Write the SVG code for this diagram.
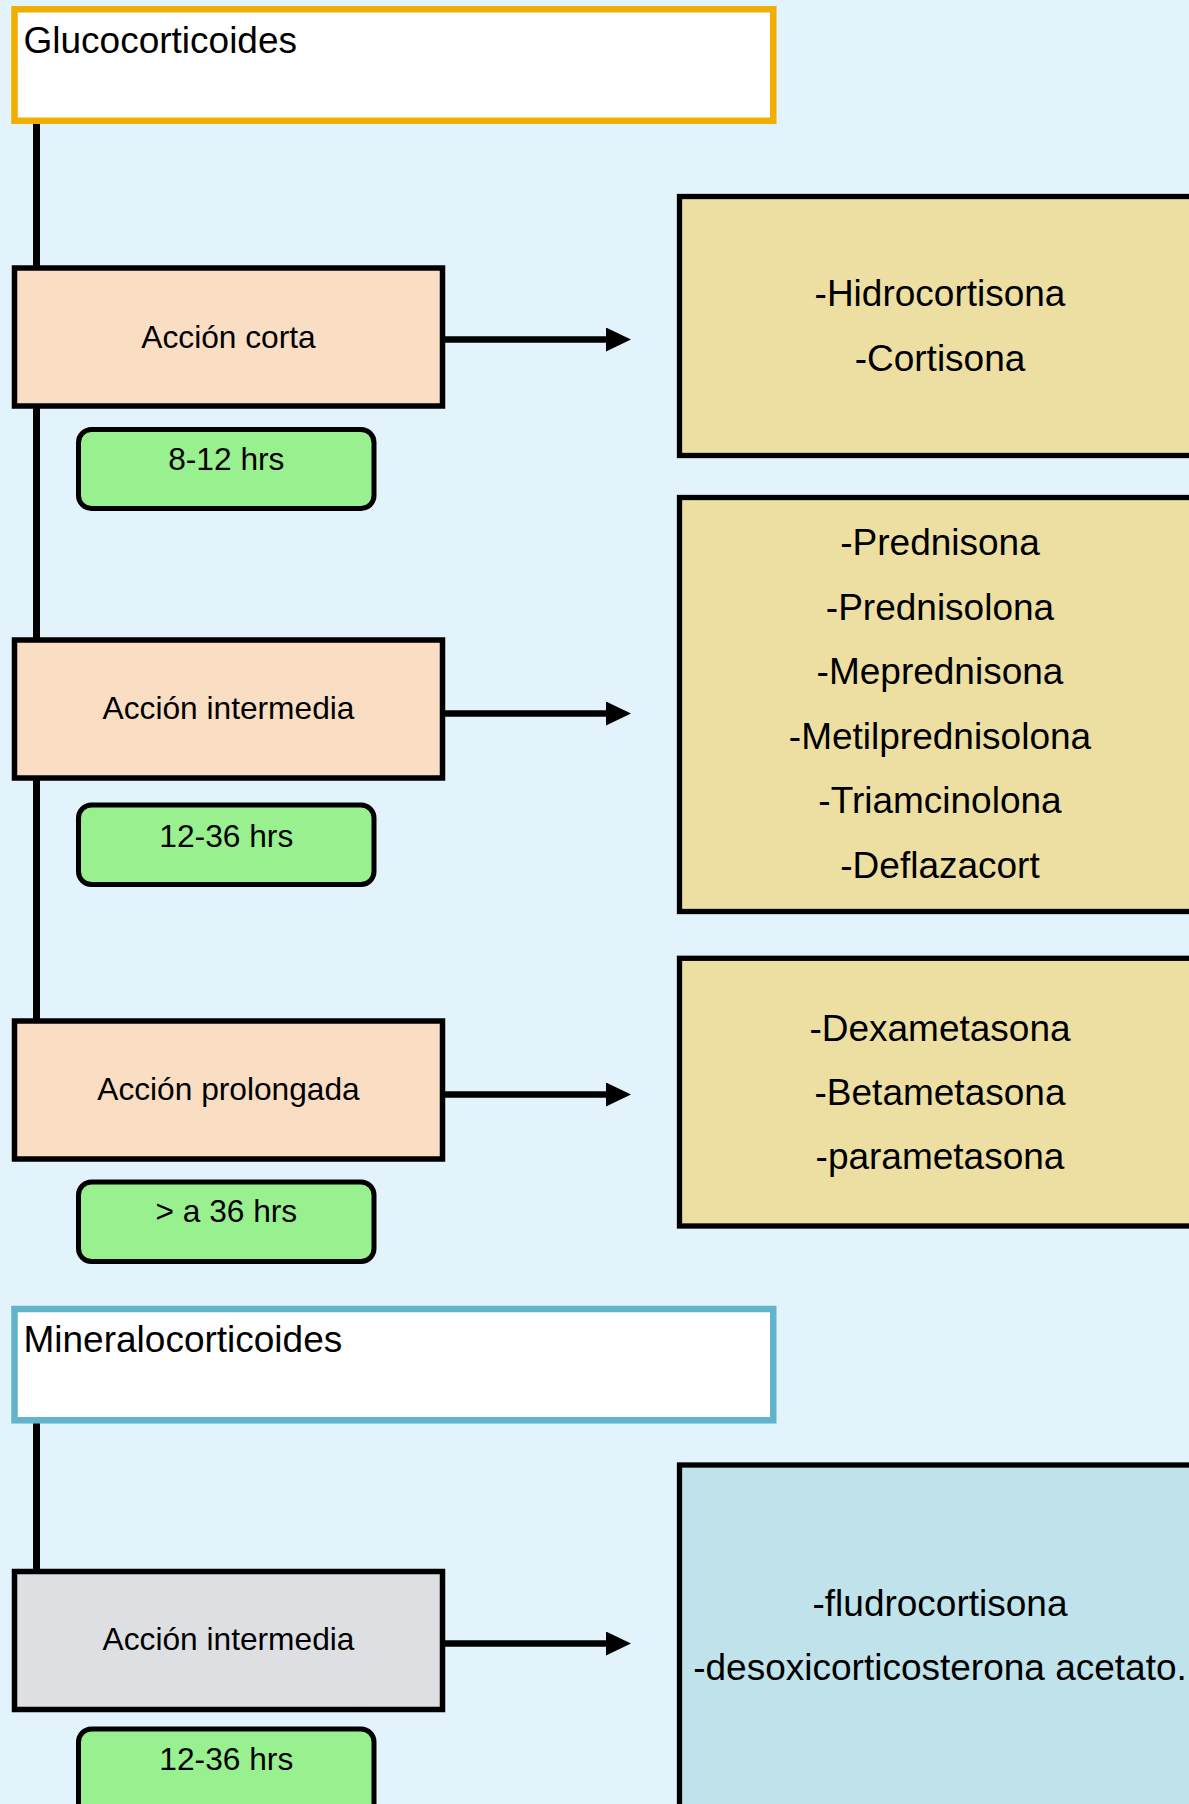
<svg xmlns="http://www.w3.org/2000/svg" width="1189" height="1804" viewBox="0 0 1189 1804">
<style>
text{font-family:"Liberation Sans",Arial,sans-serif;fill:#000}
.big{font-size:37px}
.mid{font-size:31.7px;text-anchor:middle}
.list{font-size:37px;text-anchor:middle}
.head{stroke-width:6.5}
.peach{fill:#F9DEC4;stroke:#000;stroke-width:5.5}
.gray{fill:#DEDFE3;stroke:#000;stroke-width:5.5}
.green{fill:#99F08F;stroke:#000;stroke-width:5}
.khaki{fill:#ECDFA1;stroke:#000;stroke-width:5.3}
.blue{fill:#C0E2EA;stroke:#000;stroke-width:5.3}
.conn{stroke:#000;stroke-width:7;fill:none}
.arr{stroke:#000;stroke-width:6.5;fill:none}
</style>
<defs>
<marker id="ah" markerUnits="userSpaceOnUse" markerWidth="25" markerHeight="24" viewBox="0 0 25 24" refX="4" refY="12" orient="auto">
<path d="M0,0 L25,12 L0,24 Z" fill="#000"/>
</marker>
</defs>
<rect x="0" y="0" width="1189" height="1804" fill="#E3F3FB"/>
<g id="connectors">
<line class="conn" x1="36.5" y1="121" x2="36.5" y2="1022"/>
<line class="conn" x1="36.5" y1="1420" x2="36.5" y2="1572"/>
<line class="arr" x1="442" y1="339.5" x2="610" y2="339.5" marker-end="url(#ah)"/>
<line class="arr" x1="442" y1="713.5" x2="610" y2="713.5" marker-end="url(#ah)"/>
<line class="arr" x1="442" y1="1094.5" x2="610" y2="1094.5" marker-end="url(#ah)"/>
<line class="arr" x1="442" y1="1643.5" x2="610" y2="1643.5" marker-end="url(#ah)"/>
</g>
<g id="gluco">
<rect class="head" x="14.5" y="9.25" width="758.75" height="111.5" fill="#FFFFFF" stroke="#F0AE00"/>
<text class="big" x="23.5" y="53">Glucocorticoides</text>
</g>
<g id="corta">
<rect class="peach" x="14.5" y="268" width="428" height="138"/>
<text class="mid" x="228.5" y="347.5">Acción corta</text>
</g>
<g id="corta-time">
<rect class="green" x="78.5" y="429.5" width="295.5" height="79" rx="13"/>
<text class="mid" x="226.3" y="470">8-12 hrs</text>
</g>
<g id="corta-list">
<rect class="khaki" x="679.5" y="196.5" width="530" height="259"/>
<text class="list" x="940" y="306">-Hidrocortisona</text>
<text class="list" x="940" y="370.5">-Cortisona</text>
</g>
<g id="intermedia">
<rect class="peach" x="14.5" y="640" width="428" height="138"/>
<text class="mid" x="228.5" y="719">Acción intermedia</text>
</g>
<g id="intermedia-time">
<rect class="green" x="78.5" y="805" width="295.5" height="79.5" rx="13"/>
<text class="mid" x="226.3" y="846.5">12-36 hrs</text>
</g>
<g id="intermedia-list">
<rect class="khaki" x="679.5" y="497.5" width="530" height="414"/>
<text class="list" x="940" y="555">-Prednisona</text>
<text class="list" x="940" y="619.5">-Prednisolona</text>
<text class="list" x="940" y="684">-Meprednisona</text>
<text class="list" x="940" y="748.5">-Metilprednisolona</text>
<text class="list" x="940" y="813">-Triamcinolona</text>
<text class="list" x="940" y="877.5">-Deflazacort</text>
</g>
<g id="prolongada">
<rect class="peach" x="14.5" y="1021" width="428" height="138"/>
<text class="mid" x="228.5" y="1100">Acción prolongada</text>
</g>
<g id="prolongada-time">
<rect class="green" x="78.5" y="1182" width="295.5" height="79.5" rx="13"/>
<text class="mid" x="226.3" y="1222.3">&gt; a 36 hrs</text>
</g>
<g id="prolongada-list">
<rect class="khaki" x="679.5" y="958.3" width="530" height="267.7"/>
<text class="list" x="940" y="1040.7">-Dexametasona</text>
<text class="list" x="940" y="1105">-Betametasona</text>
<text class="list" x="940" y="1169.3">-parametasona</text>
</g>
<g id="mineralo">
<rect class="head" x="14.5" y="1309" width="758.75" height="111.3" fill="#FFFFFF" stroke="#62B4CB"/>
<text class="big" x="23.5" y="1351.7">Mineralocorticoides</text>
</g>
<g id="mineral-intermedia">
<rect class="gray" x="14.5" y="1571.5" width="428" height="138"/>
<text class="mid" x="228.5" y="1650">Acción intermedia</text>
</g>
<g id="mineral-time">
<rect class="green" x="78.5" y="1729" width="295.5" height="100" rx="13"/>
<text class="mid" x="226.3" y="1770">12-36 hrs</text>
</g>
<g id="mineral-list">
<rect class="blue" x="679.5" y="1465" width="530" height="400"/>
<text class="list" x="940" y="1615.7">-fludrocortisona</text>
<text class="list" x="940" y="1680">-desoxicorticosterona acetato.</text>
</g>
</svg>
